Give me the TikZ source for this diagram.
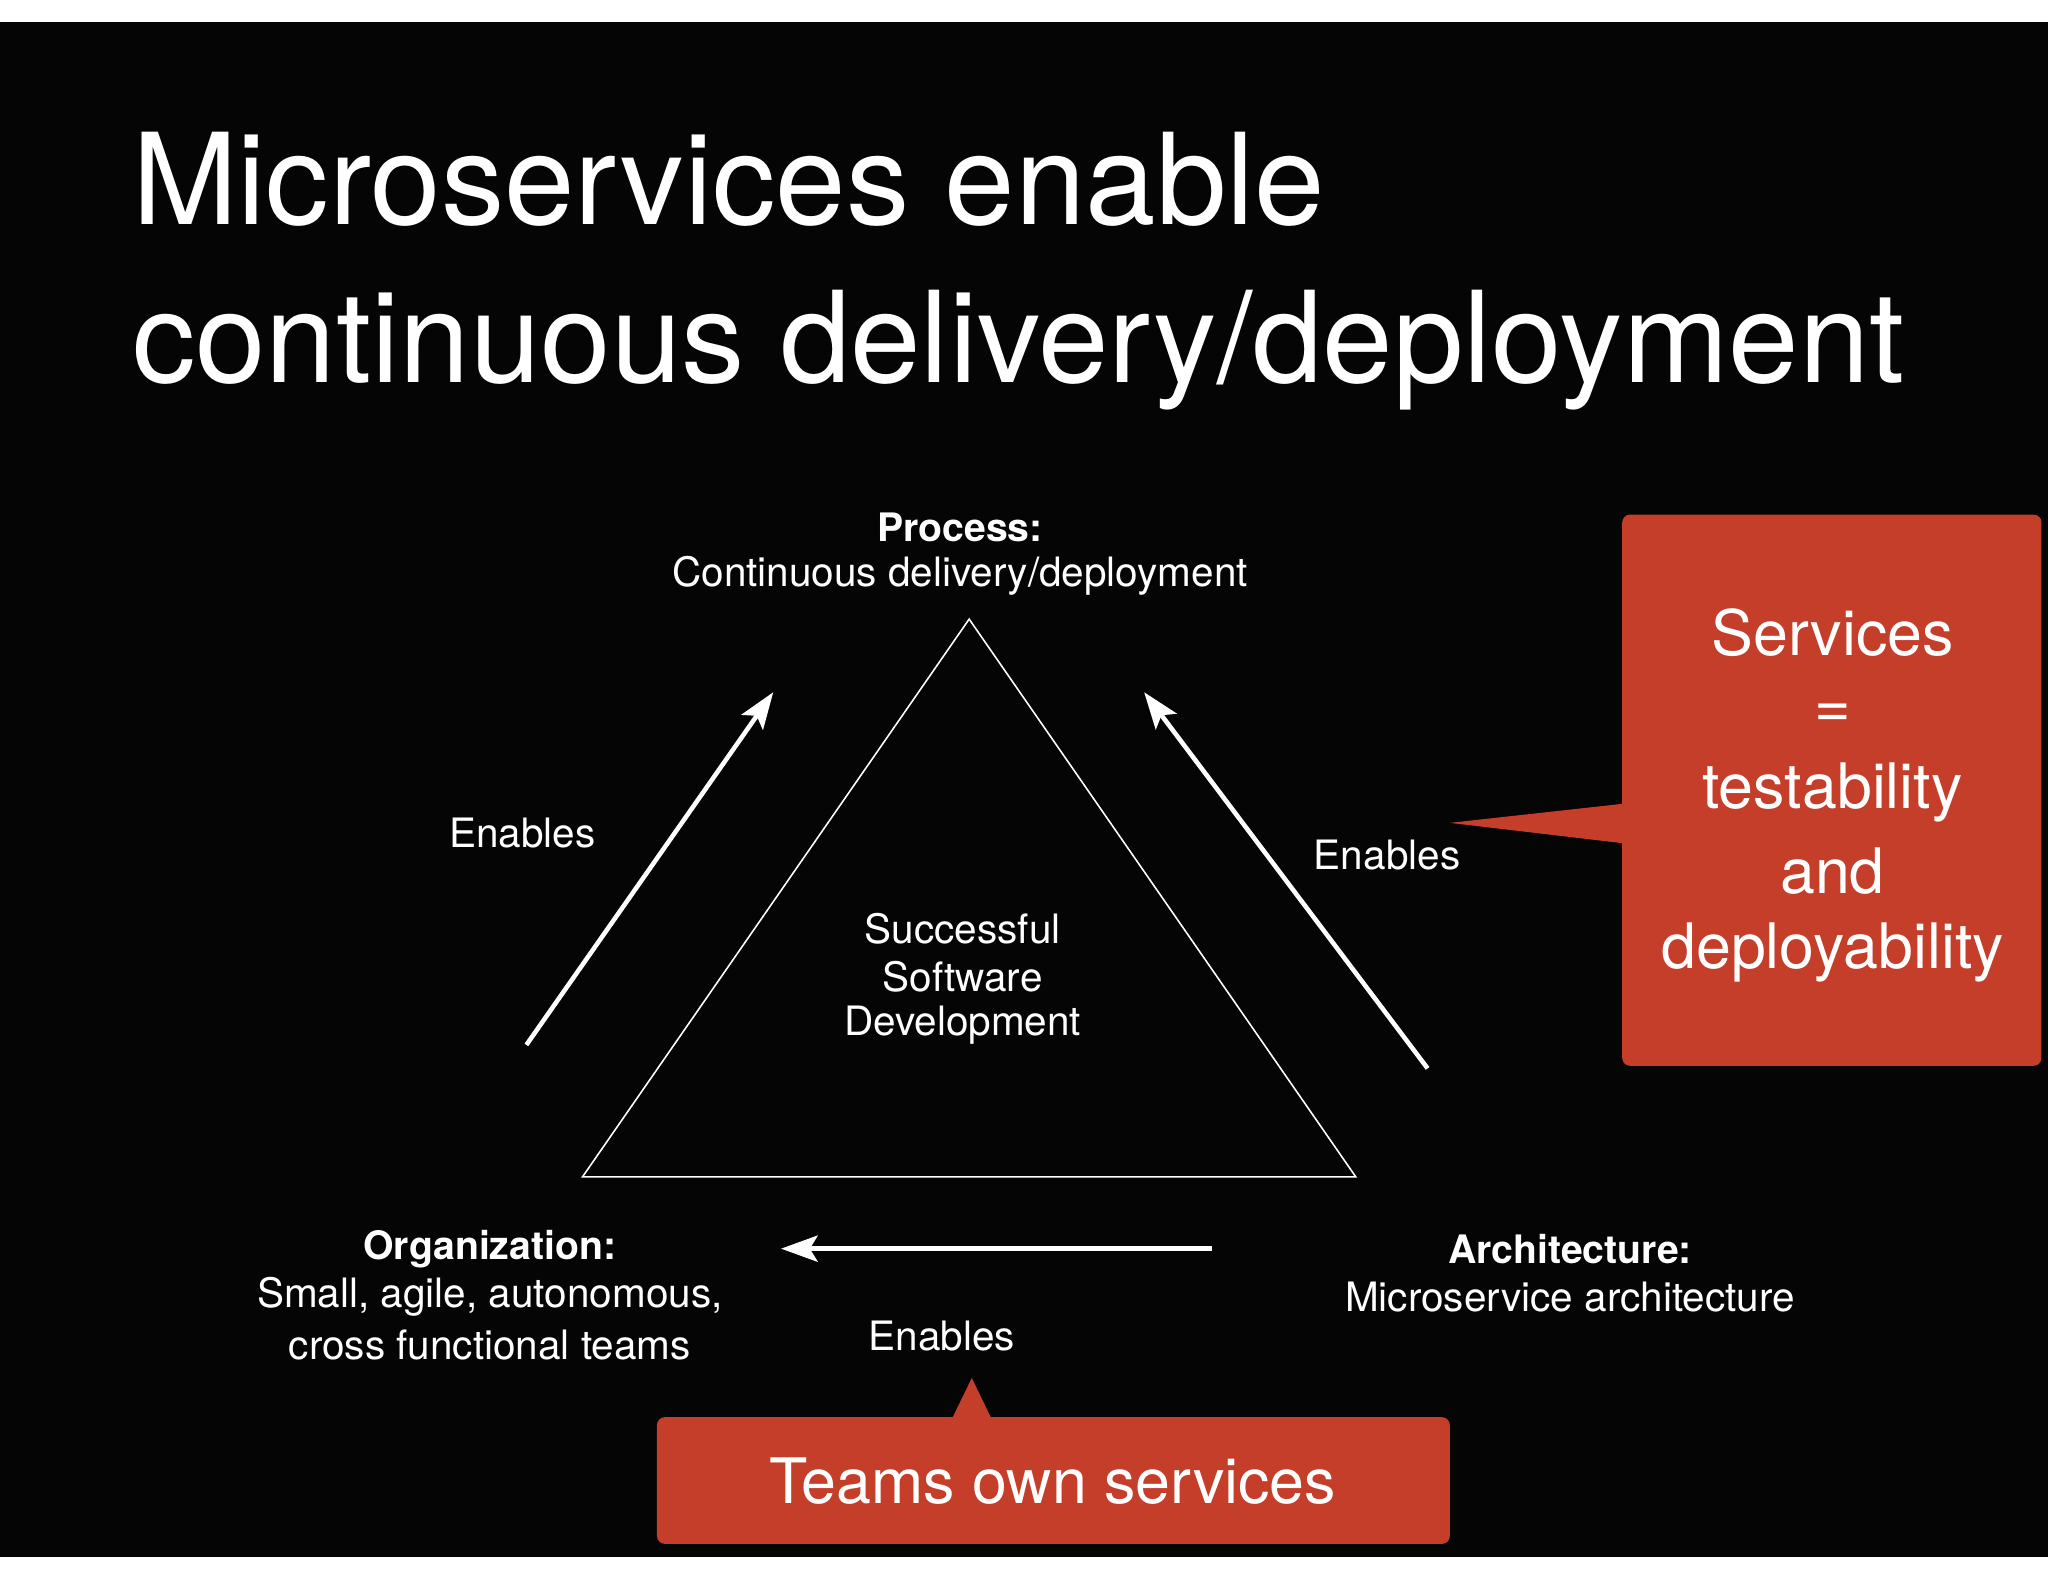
\documentclass[tikz,border=0pt]{standalone}
\usepackage{fontspec}
\usetikzlibrary{arrows.meta}
\setmainfont{TeX Gyre Heros}
\definecolor{calred}{RGB}{196,62,42}
\begin{document}
\begin{tikzpicture}[x=1pt,y=-1pt,
  lbl/.style={text=white,font=\fontsize{31}{36}\selectfont,align=center,inner sep=0},
  blbl/.style={lbl,font=\fontsize{30}{36}\selectfont\bfseries},
  arr/.style={white,line width=3.5pt,-{Stealth[length=28pt,width=20pt,inset=6pt]}},
  callout/.style={fill=calred,draw=none}]
\useasboundingbox (0,0) rectangle (1568,1211);
\fill[white] (0,0) rectangle (1568,1211);
\fill[black!98] (0,17) rectangle (1568,1192);
\node[text=white,anchor=base west,inner sep=0,font=\fontsize{97}{120}\selectfont] (t1) at (101,172) {Microservices enable};
\node[text=white,anchor=base west,inner sep=0,font=\fontsize{97}{120}\selectfont] (t2) at (101,293) {continuous delivery/deployment};
% triangle
\coordinate (A) at (742,474); \coordinate (B) at (446,901); \coordinate (C) at (1038,901);
\draw[white,line width=1.2pt] (A) -- (B) -- (C) -- cycle;
% arrows
\coordinate (l1) at (403,800); \coordinate (l2) at (592,530);
\coordinate (r1) at (1093,818); \coordinate (r2) at (876,530);
\coordinate (b1) at (928,956); \coordinate (b2) at (598,956);
\draw[arr] (l1) -- (l2);
\draw[arr] (r1) -- (r2);
\draw[arr] (b1) -- (b2);
% labels
\node[blbl] (p1) at (735,404) {Process:};
\node[lbl] (p2) at (735,441) {Continuous delivery/deployment};
\node[lbl] (e1) at (400,638) {Enables};
\node[lbl] (e2) at (1062,655) {Enables};
\node[lbl] (e3) at (721,1023) {Enables};
\node[lbl] (c1) at (737,711) {Successful};
\node[lbl] (c2) at (737,748) {Software};
\node[lbl] (c3) at (737,785) {Development};
\node[blbl] (o1) at (375,956) {Organization:};
\node[lbl] (o2) at (375,993) {Small, agile, autonomous,};
\node[lbl] (o3) at (375,1030) {cross functional teams};
\node[blbl] (a1) at (1202,956) {Architecture:};
\node[lbl] (a2) at (1202,993) {Microservice architecture};
% right callout
\fill[callout,rounded corners=6pt] (1242,394) rectangle (1563,816);
\fill[callout] (1246,615) -- (1110,630) -- (1246,646) -- cycle;
\foreach \t/\y [count=\i] in {Services/484,=/548,testability/607,and/667,deployability/729}
  \node[text=white,font=\fontsize{48}{60}\selectfont,inner sep=0] (s\i) at (1403,\y) {\t};
% bottom callout
\fill[callout,rounded corners=6pt] (503,1085) rectangle (1110,1182);
\fill[callout] (728,1088) -- (744,1055) -- (760,1088) -- cycle;
\node[text=white,font=\fontsize{48}{60}\selectfont,inner sep=0] (tm) at (806,1134) {Teams own services};
\end{tikzpicture}
\end{document}
